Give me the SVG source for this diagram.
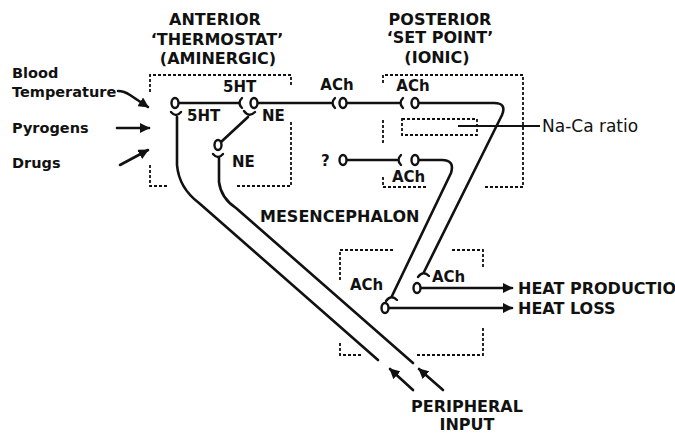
<svg xmlns="http://www.w3.org/2000/svg" width="675" height="435" viewBox="0 0 675 435">
<defs>
<style>
text{font-family:"DejaVu Sans","Liberation Sans",sans-serif;font-weight:bold;fill:#111}
.h{font-size:16px}
.s{font-size:15px}
.l{font-size:14.5px}
.m{text-anchor:middle}
.reg{font-weight:normal;font-size:17px}
.ax{fill:none;stroke:#111;stroke-width:2.6;stroke-linecap:round;stroke-linejoin:round}
.cup{fill:none;stroke:#111;stroke-width:2.4;stroke-linecap:round}
.cell{fill:#fff;stroke:#111;stroke-width:2.4}
.dash{fill:none;stroke:#111;stroke-width:1.8;stroke-dasharray:3 2}
.thin{fill:none;stroke:#111;stroke-width:1.8}
</style>
<marker id="ah" viewBox="0 0 10 10" refX="9" refY="5" markerWidth="4" markerHeight="4" orient="auto" markerUnits="strokeWidth">
<path d="M0,0 L10,5 L0,10 Z" fill="#111"/>
</marker>
</defs>
<rect width="675" height="435" fill="#fff"/>

<g id="titles">
<text class="h m" x="215" y="25">ANTERIOR</text>
<text class="h m" x="217" y="45">‘THERMOSTAT’</text>
<text class="h m" x="218" y="64">(AMINERGIC)</text>
<text class="h m" x="440" y="25">POSTERIOR</text>
<text class="h m" x="440" y="43">‘SET POINT’</text>
<text class="h m" x="437" y="63">(IONIC)</text>
<text class="h" x="260" y="222">MESENCEPHALON</text>
</g>

<g id="inputs">
<text class="l" x="12" y="78">Blood</text>
<text class="l" x="12" y="97">Temperature</text>
<text class="l" x="12" y="133">Pyrogens</text>
<text class="l" x="12" y="168">Drugs</text>
</g>

<g id="anterior-region">
<path class="dash" d="M150,92 L150,75 L291,75 L291,87"/>
<path class="dash" d="M291,122 L291,186 L237,186"/>
<path class="dash" d="M167,186 L150,186 L150,165"/>
</g>

<g id="posterior-region">
<path class="dash" d="M383,83 L383,75 L523,75 L523,187 L485,187"/>
<path class="dash" d="M383,120 L383,143"/>
<path class="dash" d="M383,177 L383,187 L427,187"/>
<rect id="na-ca-box" class="dash" x="402" y="119" width="75" height="16"/>
</g>

<g id="mesencephalon-region">
<path class="dash" d="M340,280 L340,250 L395,250"/>
<path class="dash" d="M452,250 L483,250 L483,268"/>
<path class="dash" d="M483,328 L483,355 L415,355"/>
<path class="dash" d="M340,343 L340,355 L362,355"/>
</g>

<g id="connectors">
<path class="ax" d="M179,103 L239,103"/>
<path class="ax" d="M258,103 L331,103"/>
<path class="ax" d="M347,103 L399,103"/>
<path class="ax" d="M419,103 L494,103 Q507,103 502,115 L424,272"/>
<path class="ax" d="M221,142 L248,117"/>
<path class="ax" d="M177,117 L177,165 Q179,188 199,203 L378,360"/>
<path class="ax" d="M219,158 L219,182 Q221,198 236,208 L413,363"/>
<path class="ax" d="M347,160 L397,160"/>
<path class="ax" d="M419,160 L442,160 Q455,160 451,173 L392,296"/>
<path class="ax" d="M421,288 L512,288" marker-end="url(#ah)"/>
<path class="ax" d="M389,308 L512,308" marker-end="url(#ah)"/>
<path class="ax" d="M118,91 Q124,91 130,95 L148,107" marker-end="url(#ah)"/>
<path class="ax" d="M117,128 L149,128" marker-end="url(#ah)"/>
<path class="ax" d="M120,165 L148,150" marker-end="url(#ah)"/>
<path class="ax" d="M413,390 L390,369" marker-end="url(#ah)"/>
<path class="ax" d="M443,390 L419,369" marker-end="url(#ah)"/>
<path class="thin" d="M458,126 L540,126"/>
</g>

<g id="neuron-5ht-a">
<path class="cup" d="M171,112 Q176,118 181,112"/>
<ellipse class="cell" cx="175" cy="103" rx="3.5" ry="5"/>
<text class="s" x="187" y="121">5HT</text>
</g>
<g id="neuron-5ht-b">
<path class="cup" d="M242,98 Q237,103 242,108"/>
<ellipse class="cell" cx="254" cy="103" rx="3.5" ry="5"/>
<text class="s" x="223" y="92">5HT</text>
</g>
<g id="neuron-ne-a">
<path class="cup" d="M244,111 Q249,118 255,112"/>
<text class="s" x="262" y="121">NE</text>
</g>
<g id="neuron-ne-b">
<ellipse class="cell" cx="218" cy="145" rx="3.5" ry="5"/>
<path class="cup" d="M213,154 Q218,160 223,154"/>
<text class="s" x="232" y="167">NE</text>
</g>
<g id="neuron-ach-1">
<path class="cup" d="M335,98 Q330,103 335,108"/>
<ellipse class="cell" cx="343" cy="103" rx="3.5" ry="5"/>
<text class="s m" x="337" y="90">ACh</text>
</g>
<g id="neuron-ach-2">
<path class="cup" d="M403,98 Q398,103 403,108"/>
<ellipse class="cell" cx="415" cy="103" rx="3.5" ry="5"/>
<text class="s m" x="413" y="91">ACh</text>
</g>
<g id="neuron-unknown">
<text class="s" x="321" y="166">?</text>
<ellipse class="cell" cx="343" cy="160" rx="3.5" ry="5"/>
</g>
<g id="neuron-ach-3">
<path class="cup" d="M401,155 Q396,160 401,165"/>
<ellipse class="cell" cx="415" cy="160" rx="3.5" ry="5"/>
<text class="s" x="392" y="182">ACh</text>
</g>
<g id="neuron-heat-production">
<path class="cup" d="M418,277 Q423,270 429,276"/>
<ellipse class="cell" cx="417" cy="288" rx="3.5" ry="5"/>
<text class="s" x="432" y="282">ACh</text>
</g>
<g id="neuron-heat-loss">
<path class="cup" d="M386,301 Q391,294 397,300"/>
<ellipse class="cell" cx="385" cy="308" rx="3.5" ry="5"/>
<text class="s" x="350" y="290">ACh</text>
</g>

<g id="outputs">
<text class="h" x="518" y="294">HEAT PRODUCTIO</text>
<text class="h" x="518" y="314">HEAT LOSS</text>
<text class="h m" x="467" y="412">PERIPHERAL</text>
<text class="h m" x="467" y="430">INPUT</text>
<text class="reg" x="542" y="132">Na-Ca ratio</text>
</g>
</svg>
